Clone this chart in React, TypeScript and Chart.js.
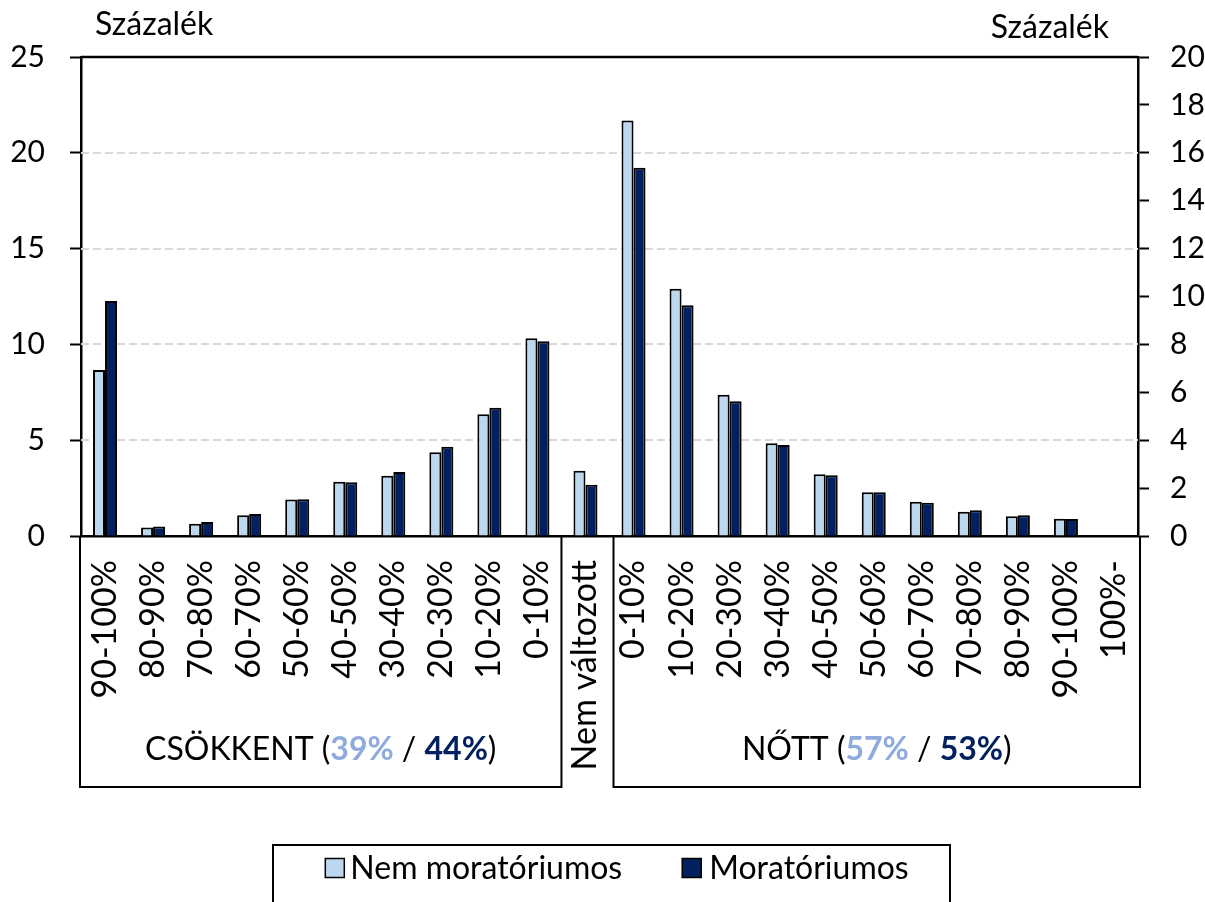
import React, { useEffect, useRef } from 'react';
import { Chart, registerables } from 'chart.js';

Chart.register(...registerables);

const categories = [
  '90-100%', '80-90%', '70-80%', '60-70%', '50-60%', '40-50%', '30-40%', '20-30%', '10-20%', '0-10%',
  'Nem változott',
  '0-10%', '10-20%', '20-30%', '30-40%', '40-50%', '50-60%', '60-70%', '70-80%', '80-90%', '90-100%', '100%-',
];
const nemMoratoriumos = [8.66, 0.45, 0.64, 1.08, 1.91, 2.83, 3.15, 4.37, 6.35, 10.32, 3.4, 21.68, 12.91, 7.37, 4.84, 3.22, 2.28, 1.79, 1.27, 1.03, 0.9, 0];
const moratoriumos = [12.27, 0.49, 0.73, 1.15, 1.92, 2.8, 3.34, 4.66, 6.7, 10.16, 2.67, 19.22, 12.04, 7.03, 4.75, 3.17, 2.28, 1.74, 1.34, 1.08, 0.89, 0];
const seriesNames = ['Nem moratóriumos', 'Moratóriumos'];
const seriesColors = ['#BDD7EE', '#002060'];
const percentColors = ['#8FAADC', '#002060'];
const leftAxis = { min: 0, max: 25, step: 5 };
const rightAxis = { min: 0, max: 20, step: 2 };
const axisTitle = 'Százalék';
const groupNames = ['CSÖKKENT', 'NŐTT'];
const groupLight = ['39%', '57%'];
const groupDark = ['44%', '53%'];
const groupRanges = [[0, 9], [11, 21]];

const FONT = 'Lato, "Open Sans", sans-serif';

const decorPlugin = {
  id: 'decor',
  beforeDatasetsDraw(chart: any) {
    const { ctx, chartArea: ca, scales } = chart;
    const y = scales.y;
    ctx.save();
    ctx.strokeStyle = '#D9D9D9';
    ctx.lineWidth = 2;
    ctx.setLineDash([8, 4]);
    y.ticks.forEach((t: any) => {
      if (t.value > y.min && t.value < y.max) {
        const py = Math.round(y.getPixelForValue(t.value));
        ctx.beginPath();
        ctx.moveTo(ca.left, py);
        ctx.lineTo(ca.right, py);
        ctx.stroke();
      }
    });
    ctx.restore();
  },
  afterDraw(chart: any) {
    const { ctx, chartArea: ca, scales } = chart;
    const x = scales.x;
    ctx.save();
    // top frame line
    ctx.strokeStyle = '#000';
    ctx.lineWidth = 2.5;
    ctx.beginPath();
    ctx.moveTo(ca.left, ca.top);
    ctx.lineTo(ca.right, ca.top);
    ctx.stroke();

    // axis titles
    ctx.fillStyle = '#000';
    ctx.font = `32px ${FONT}`;
    ctx.textBaseline = 'alphabetic';
    ctx.textAlign = 'left';
    ctx.fillText(axisTitle, 95, 35);
    ctx.textAlign = 'right';
    ctx.fillText(axisTitle, 1109, 38);

    // group boxes
    const half = (x.getPixelForValue(1) - x.getPixelForValue(0)) / 2;
    const boxBottom = 787;
    ctx.lineWidth = 2;
    groupRanges.forEach(([a, b], gi) => {
      const l = a === 0 ? ca.left - 1 : x.getPixelForValue(a) - half + 4;
      const r = b === categories.length - 1 ? ca.right + 2 : x.getPixelForValue(b) + half;
      ctx.strokeStyle = '#000';
      ctx.beginPath();
      ctx.moveTo(l, ca.bottom);
      ctx.lineTo(l, boxBottom);
      ctx.lineTo(r, boxBottom);
      ctx.lineTo(r, ca.bottom);
      ctx.stroke();

      const parts = [
        { t: groupNames[gi] + ' (', c: '#000', b: false },
        { t: groupLight[gi], c: percentColors[0], b: true },
        { t: ' / ', c: '#000', b: false },
        { t: groupDark[gi], c: percentColors[1], b: true },
        { t: ')', c: '#000', b: false },
      ];
      const fontFor = (bold: boolean) => `${bold ? 'bold ' : ''}32px ${FONT}`;
      let total = 0;
      parts.forEach((p) => {
        ctx.font = fontFor(p.b);
        total += ctx.measureText(p.t).width;
      });
      let cx = (l + r) / 2 - total / 2;
      ctx.textAlign = 'left';
      ctx.textBaseline = 'middle';
      parts.forEach((p) => {
        ctx.font = fontFor(p.b);
        ctx.fillStyle = p.c;
        ctx.fillText(p.t, cx, 750);
        cx += ctx.measureText(p.t).width;
      });
    });

    // legend
    const lgTop = 845;
    ctx.strokeStyle = '#000';
    ctx.lineWidth = 2;
    ctx.beginPath();
    ctx.moveTo(273, 910);
    ctx.lineTo(273, lgTop);
    ctx.lineTo(950, lgTop);
    ctx.lineTo(950, 910);
    ctx.stroke();
    ctx.font = `32px ${FONT}`;
    ctx.textBaseline = 'middle';
    ctx.textAlign = 'left';
    const sq = 19;
    const w0 = ctx.measureText(seriesNames[0]).width;
    const w1 = ctx.measureText(seriesNames[1]).width;
    const gap = 60;
    const totalW = sq + 6 + w0 + gap + sq + 8 + w1;
    let lx = 617 - totalW / 2;
    const ly = 868;
    [0, 1].forEach((i) => {
      ctx.fillStyle = seriesColors[i];
      ctx.fillRect(lx, ly - sq / 2, sq, sq);
      ctx.strokeStyle = '#000';
      ctx.lineWidth = 1.5;
      ctx.strokeRect(lx, ly - sq / 2, sq, sq);
      lx += sq + (i === 0 ? 6 : 8);
      ctx.fillStyle = '#000';
      ctx.fillText(seriesNames[i], lx, ly + 1);
      lx += (i === 0 ? w0 : w1) + gap;
    });
    ctx.restore();
  },
};

export default function App() {
  const ref = useRef<HTMLCanvasElement>(null);
  useEffect(() => {
    if (!ref.current) return;
    const chart = new Chart(ref.current, {
      type: 'bar',
      data: {
        labels: categories,
        datasets: [
          {
            label: seriesNames[0],
            data: nemMoratoriumos,
            backgroundColor: seriesColors[0],
            borderColor: '#000',
            borderWidth: 2,
            yAxisID: 'y',
          },
          {
            label: seriesNames[1],
            data: moratoriumos,
            backgroundColor: seriesColors[1],
            borderColor: '#000',
            borderWidth: 2,
            yAxisID: 'y',
          },
        ],
      },
      options: {
        responsive: false,
        animation: false,
        layout: { padding: { top: 57, left: 0, right: 0, bottom: 0 } },
        datasets: { bar: { categoryPercentage: 0.5, barPercentage: 1 } },
        plugins: { legend: { display: false }, tooltip: { enabled: false }, title: { display: false } },
        scales: {
          x: {
            grid: { display: false },
            border: { display: true, color: '#000', width: 2.5 },
            ticks: {
              autoSkip: false,
              minRotation: 90,
              maxRotation: 90,
              padding: 16,
              color: '#000',
              font: { family: FONT, size: 34 },
            },
            afterFit: (s: any) => { s.height = 366; },
          },
          y: {
            position: 'left',
            min: leftAxis.min,
            max: leftAxis.max,
            ticks: { stepSize: leftAxis.step, padding: 25, color: '#000', font: { family: FONT, size: 30 } },
            grid: { drawOnChartArea: false, drawTicks: true, tickLength: 11, tickColor: '#000', tickWidth: 2 },
            border: { display: true, color: '#000', width: 2.5 },
            afterFit: (s: any) => { s.width = 81; },
          },
          y2: {
            position: 'right',
            min: rightAxis.min,
            max: rightAxis.max,
            ticks: { stepSize: rightAxis.step, padding: 21, color: '#000', font: { family: FONT, size: 30 } },
            grid: { drawOnChartArea: false, drawTicks: true, tickLength: 11, tickColor: '#000', tickWidth: 2 },
            border: { display: true, color: '#000', width: 2.5 },
            afterFit: (s: any) => { s.width = 67; },
          },
        },
      },
      plugins: [decorPlugin],
    });
    return () => chart.destroy();
  }, []);
  return (
    <div style={{ position: 'absolute', left: 0, top: 0, width: 1205, height: 902, background: '#fff' }}>
      <canvas ref={ref} width={1205} height={902} style={{ display: 'block' }} />
    </div>
  );
}
